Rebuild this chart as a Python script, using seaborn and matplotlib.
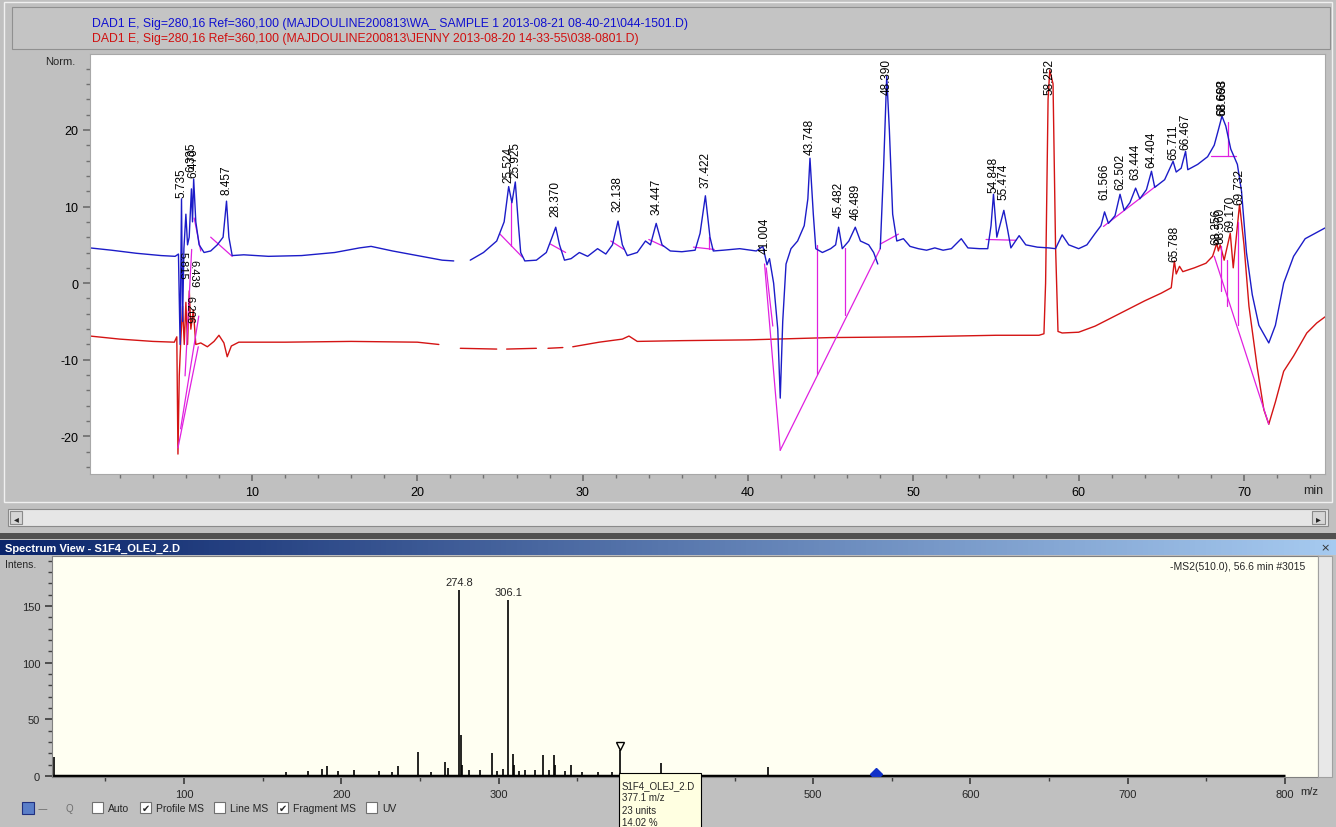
import numpy as np
import pandas as pd
import seaborn as sns
import matplotlib.pyplot as plt
from matplotlib.patches import Rectangle
from matplotlib.colors import LinearSegmentedColormap

W, H = 1336, 828

# ---- chromatogram (DAD1 E, 280 nm) ----
blue_t = [0.2, 1.5, 3.0, 4.5, 5.35, 5.55, 5.65, 5.735, 5.80, 5.88, 6.0, 6.1, 6.2, 6.335, 6.40, 6.47,
          6.6, 6.8, 7.1, 7.5, 7.9, 8.25, 8.457, 8.6, 8.8, 9.5, 11.0, 13.0, 15.0, 16.5, 17.2, 18.5,
          20.0, 21.5, 22.2,
          23.2, 24.0, 24.8, 25.25, 25.524, 25.72, 25.925, 26.1, 26.25, 26.5, 27.2, 27.8, 28.15, 28.37,
          28.6, 28.9, 29.3, 29.8, 30.3, 30.9, 31.4, 31.8, 32.138, 32.4, 32.7, 33.3, 33.8, 34.1, 34.447,
          34.8, 35.3, 36.0, 36.8, 37.1, 37.422, 37.7, 37.9, 38.5, 39.5, 40.5, 40.9, 41.004, 41.15,
          41.3, 41.55, 41.8, 41.95, 42.1, 42.3, 42.6, 43.0, 43.4, 43.62, 43.748, 43.95, 44.1, 44.5,
          45.0, 45.3, 45.482, 45.7, 46.1, 46.489, 46.8, 47.3, 47.6, 47.85,
          48.0, 48.2, 48.39, 48.55, 48.75, 49.0, 49.4, 49.8, 50.3, 50.8, 51.3, 51.8, 52.3, 52.9, 53.3,
          54.0, 54.5, 54.7, 54.848, 55.05, 55.474, 55.7, 55.9, 56.4, 56.8, 57.5, 58.2, 58.6, 59.0,
          59.4, 60.0, 60.5, 61.0, 61.35, 61.566, 61.8, 62.2, 62.502, 62.75, 63.1, 63.444, 63.7, 64.1,
          64.404, 64.6, 65.2, 65.711, 65.9, 66.2, 66.467, 66.6, 67.2, 67.8, 68.2, 68.45, 68.668, 68.9,
          69.2, 69.6, 69.85, 70.15, 70.5, 70.9, 71.5, 71.9, 72.4, 73.0, 73.7, 74.9]
blue_y = [4.6, 4.3, 3.9, 3.6, 3.5, 3.8, -8.0, 11.0, -5.0, 4.5, 9.0, 5.0, 6.0, 12.3, 8.0, 13.6,
          8.0, 5.0, 4.0, 4.2, 5.0, 6.0, 10.7, 6.0, 3.6, 3.7, 3.5, 3.6, 4.0, 4.6, 4.8, 4.2,
          3.6, 3.0, 2.9,
          3.0, 4.0, 5.5, 8.0, 12.6, 10.5, 13.2, 8.0, 4.0, 2.9, 3.0, 4.0, 6.0, 7.3,
          5.0, 3.0, 3.2, 4.0, 3.5, 4.5, 3.8, 5.0, 8.1, 5.0, 3.6, 4.0, 5.5, 5.0, 7.8,
          5.0, 4.2, 4.1, 4.3, 6.5, 11.4, 6.0, 4.2, 4.3, 4.5, 4.2, 4.8, 3.8, 2.4,
          3.2, 0.0, -6.0, -15.0, -5.0, 2.5, 4.5, 5.5, 7.5, 11.0, 16.3, 9.0, 4.5, 4.0,
          4.5, 5.0, 7.3, 4.5, 5.5, 7.3, 5.5, 5.0, 4.0, 2.5,
          4.5, 15.0, 27.0, 20.0, 9.0, 5.5, 5.8, 4.8, 4.5, 4.3, 4.6, 4.3, 4.5, 5.8, 4.6,
          4.5, 4.5, 7.5, 11.6, 6.0, 9.5, 7.0, 4.6, 6.2, 5.0, 4.7, 4.6, 4.5, 6.3,
          5.0, 4.5, 5.0, 6.5, 7.5, 9.3, 7.8, 8.8, 11.6, 9.5, 10.5, 12.4, 11.0, 12.2,
          14.6, 12.5, 13.5, 15.9, 14.5, 15.0, 17.2, 14.8, 15.5, 16.5, 18.0, 20.0, 21.8, 20.5,
          17.5, 15.5, 12.0, 4.0, -1.5, -5.5, -7.8, -5.5, 0.0, 3.5, 5.8, 7.2]
blue_breaks = [22.7, 47.9]

red_t = [0.2, 2.0, 4.0, 5.3, 5.45, 5.52, 5.6, 5.68, 5.8, 5.9, 6.0, 6.1, 6.206, 6.3, 6.45, 6.6,
         6.9, 7.3, 7.7, 8.0, 8.3, 8.5, 8.75, 9.2, 12.0, 16.0, 20.0, 21.3,
         22.6, 24.8, 25.4, 27.2, 27.9, 28.8,
         29.4, 31.0, 32.4, 32.8, 33.3, 36.0, 40.0, 45.0, 50.0, 55.0, 57.6, 57.9, 58.0, 58.15, 58.252,
         58.45, 58.6, 58.75, 59.0, 60.0, 61.0, 62.0, 63.0, 64.0, 65.0, 65.6, 65.788, 65.9, 66.1,
         66.3, 67.0, 67.7, 68.1, 68.356, 68.45, 68.56, 68.8, 69.17, 69.35, 69.732, 70.0, 70.3,
         70.8, 71.2, 71.5, 71.9, 72.4, 73.0, 73.8, 74.4, 74.9]
red_y = [-6.9, -7.3, -7.6, -7.7, -7.0, -22.3, -12.0, -8.0, -3.0, -8.0, -2.5, -8.0, -1.0, -6.0, -3.5, -8.0,
         -7.8, -8.3, -7.6, -6.8, -7.8, -9.6, -8.2, -7.7, -7.7, -7.6, -7.7, -8.0,
         -8.5, -8.6, -8.6, -8.5, -8.5, -8.4,
         -8.3, -7.7, -7.3, -6.9, -7.6, -7.5, -7.4, -7.1, -7.0, -6.8, -6.8, -6.6, 0.0, 24.0, 27.8,
         26.0, 5.0, -6.3, -6.5, -6.4, -5.6, -4.5, -3.4, -2.3, -1.3, -0.6, 2.9, 1.2, 2.2,
         1.5, 2.0, 2.6, 3.5, 5.2, 4.2, 5.0, 3.0, 6.5, 2.0, 10.3, 5.0, -3.0,
         -11.0, -16.5, -18.4, -15.5, -11.5, -9.5, -6.5, -5.2, -4.4]
red_breaks = [21.5, 25.0, 27.5, 29.0]

# integration baselines (start time, start value, end time, end value)
mag_t0 = [5.52, 5.95, 6.78, 6.5, 7.5, 25.0, 25.65, 28.05, 31.7, 34.0, 36.7, 37.65, 41.0, 41.1,
          41.95, 44.17, 45.87, 48.0, 54.4, 61.5, 68.0, 69.05, 68.2, 68.6, 69.0, 69.65]
mag_y0 = [-21.5, -12.1, -4.3, 8.5, 6.0, 6.4, 10.6, 5.1, 5.5, 5.7, 4.7, 6.0, 2.5, 2.0,
          -21.8, 5.0, 4.6, 5.1, 5.7, 7.4, 16.6, 21.0, 3.5, 4.8, 3.0, 8.0]
mag_t1 = [6.75, 6.35, 5.68, 6.9, 8.8, 26.35, 25.65, 28.97, 32.5, 34.9, 37.96, 37.65, 41.95, 41.5,
          48.0, 44.17, 45.87, 49.1, 56.2, 64.7, 69.5, 69.05, 71.5, 68.6, 69.0, 69.65]
mag_y1 = [-8.3, 4.4, -19.0, 4.2, 3.5, 3.4, 4.8, 4.0, 4.4, 4.8, 4.4, 4.5, -21.8, -5.6,
          4.5, -11.8, -4.2, 6.4, 5.6, 12.7, 16.6, 16.6, -18.4, -1.0, -3.0, -5.4]

# retention time labels above peaks (text, bottom of label)
pk_txt = ['5.735', '6.335', '6.470', '8.457', '25.524', '25.925', '28.370', '32.138', '34.447',
          '37.422', '41.004', '43.748', '45.482', '46.489', '48.390', '54.848', '55.474', '58.252',
          '61.566', '62.502', '63.444', '64.404', '65.711', '66.467', '68.668', '68.693',
          '65.788', '68.356', '68.560', '69.170', '69.732']
pk_y = [11.2, 14.6, 13.8, 11.6, 13.2, 13.8, 8.7, 9.4, 9.0,
        12.5, 4.0, 16.8, 8.6, 8.4, 24.7, 11.9, 11.0, 24.7,
        11.0, 12.3, 13.6, 15.1, 16.2, 17.5, 21.9, 22.1,
        2.9, 5.1, 5.3, 6.8, 10.3]
# labels hanging below negative peaks
dn_txt = ['5.815', '6.439', '6.206']
dn_y = [4.2, 3.2, -1.5]

# ---- MS2 spectrum ----
ms_mz = [17, 165, 179, 188, 191, 198, 208, 224, 232, 236, 249, 257, 266, 268, 274.8, 276, 277,
         281, 288, 296, 299, 303, 306.1, 309, 310, 313, 317, 323, 328, 332, 335, 336, 342, 346,
         353, 363, 372, 377.1, 403, 471]
ms_int = [17, 3, 4, 6, 9, 4, 5, 4, 3, 9, 21, 3, 12, 7, 164, 36, 10,
          5, 5, 20, 4, 6, 155, 19, 10, 4, 5, 5, 18, 5, 18, 10, 4, 10,
          3, 3, 3, 23, 11, 8]
ms_lab = ['274.8', '306.1']
ms_ticks = [100, 200, 300, 400, 500, 600, 700, 800]
ms_ticklabels = ['100', '200', '300', '', '500', '600', '700', '800']  # 400 sits under the tooltip

BLUE, RED, MAG = '#1c1cc8', '#d41414', '#e020e0'

sns.set_theme(style='white')
plt.rcParams['font.family'] = ['Liberation Sans', 'DejaVu Sans']
plt.rcParams['axes.unicode_minus'] = False

fig = plt.figure(figsize=(W / 100, H / 100), dpi=100, facecolor='#c0c0c0')


def px_rect(x, y, w, h, **kw):
    fig.add_artist(Rectangle((x / W, 1 - (y + h) / H), w / W, h / H,
                             transform=fig.transFigure, **kw))


def px_text(x, y, s, **kw):
    fig.text(x / W, 1 - y / H, s, **kw)


# window chrome
px_rect(4, 3, 1328, 500, fc='none', ec='#f0f0f0', lw=1, zorder=-1)
px_rect(12, 8, 1318, 42, fc='#c4c4c4', ec='#909090', lw=0.8, zorder=-1)
px_text(92, 24, 'DAD1 E, Sig=280,16 Ref=360,100 (MAJDOULINE200813\\WA_ SAMPLE 1 2013-08-21 08-40-21\\044-1501.D)',
        color='#1010d0', fontsize=8.8, va='center')
px_text(92, 39, 'DAD1 E, Sig=280,16 Ref=360,100 (MAJDOULINE200813\\JENNY 2013-08-20 14-33-55\\038-0801.D)',
        color='#d01010', fontsize=8.8, va='center')

# scrollbar
px_rect(8, 510, 1320, 17, fc='#e6e6e6', ec='#8a8a8a', lw=0.8)
px_rect(10, 512, 12, 13, fc='#d6d6d6', ec='#8a8a8a', lw=0.8)
px_rect(1312, 512, 13, 13, fc='#d6d6d6', ec='#8a8a8a', lw=0.8)
px_text(16, 519, '\u25c2', fontsize=7, ha='center', va='center', family='DejaVu Sans')
px_text(1318, 519, '\u25b8', fontsize=7, ha='center', va='center', family='DejaVu Sans')
px_rect(0, 534, W, 6, fc='#505050', ec='none')

# spectrum window title bar
tb = fig.add_axes([0, 1 - 556 / H, 1, 15 / H])
tb.imshow(np.linspace(0, 1, 256)[None, :], aspect='auto', extent=[0, 1, 0, 1],
          cmap=LinearSegmentedColormap.from_list('tb', ['#0a246a', '#a6caf0']))
tb.axis('off')
tb.text(0.004, 0.5, 'Spectrum View - S1F4_OLEJ_2.D', color='white', fontsize=8,
        fontweight='bold', va='center', transform=tb.transAxes)
tb.text(0.992, 0.5, '\u00d7', color='#303030', fontsize=8, va='center', ha='center',
        transform=tb.transAxes, family='DejaVu Sans')

# ---- top: chromatogram ----
ax = fig.add_axes([90 / W, 1 - 475 / H, 1235 / W, 420 / H], facecolor='white')

blue_df = pd.DataFrame({'t': blue_t, 'y': blue_y})
blue_df['seg'] = np.searchsorted(blue_breaks, blue_df['t'])
red_df = pd.DataFrame({'t': red_t, 'y': red_y})
red_df['seg'] = np.searchsorted(red_breaks, red_df['t'])
mag_df = pd.DataFrame({'t': mag_t0 + mag_t1, 'y': mag_y0 + mag_y1,
                       'seg': list(range(len(mag_t0))) * 2})

sns.lineplot(data=red_df, x='t', y='y', units='seg', estimator=None, sort=False,
             color=RED, lw=1.0, ax=ax)
sns.lineplot(data=mag_df, x='t', y='y', units='seg', estimator=None, sort=False,
             color=MAG, lw=0.9, ax=ax)
sns.lineplot(data=blue_df, x='t', y='y', units='seg', estimator=None, sort=False,
             color=BLUE, lw=1.0, ax=ax)

for s, yb in zip(pk_txt, pk_y):
    ax.text(float(s), yb, s, rotation=90, ha='center', va='bottom', fontsize=8.5, color='black')
for s, yb in zip(dn_txt, dn_y):
    ax.text(float(s), yb, s, rotation=270, ha='center', va='top', fontsize=8, color='black')

ax.set_xlim(0.2, 74.9)
ax.set_ylim(-24.9, 29.9)
ax.set_xticks([10, 20, 30, 40, 50, 60, 70])
ax.set_xticks(np.arange(2, 75, 2), minor=True)
ax.set_yticks([-20, -10, 0, 10, 20])
ax.set_yticks(np.arange(-24, 30, 2), minor=True)
ax.tick_params(which='both', direction='out', color='#707070', labelsize=9, labelcolor='black',
               bottom=True, left=True)
ax.tick_params(which='major', length=5)
ax.tick_params(which='minor', length=3)
ax.set_xlabel('')
ax.set_ylabel('')
for sp in ax.spines.values():
    sp.set_color('#a8a8a8')
    sp.set_linewidth(0.8)
px_text(60, 62, 'Norm.', fontsize=8, ha='center', va='center')
px_text(1313, 491, 'min', fontsize=9, ha='center', va='center')

# ---- bottom: spectrum ----
ax2 = fig.add_axes([52 / W, 1 - 778 / H, 1266 / W, 221 / H], facecolor='#fffff2')
ax2.vlines(ms_mz, 0, ms_int, color='black', lw=1.2)
ax2.hlines(0, 16, 800, color='black', lw=2.5)
for s in ms_lab:
    ax2.text(float(s), ms_int[ms_mz.index(float(s))] + 3, s, ha='center', va='bottom', fontsize=8)
ax2.plot([377.1], [26], marker='v', ms=6, mfc='none', mec='black', ls='none')
ax2.plot([540], [2], marker='D', ms=6, color='#1030c8', ls='none')
ax2.set_xlim(16, 821)
ax2.set_ylim(-1, 194)
ax2.set_xticks(ms_ticks, ms_ticklabels)
ax2.set_xticks(np.arange(50, 801, 50), minor=True)
ax2.set_yticks([0, 50, 100, 150])
ax2.set_yticks(np.arange(0, 191, 10), minor=True)
ax2.tick_params(which='both', direction='out', color='#404040', labelsize=8, bottom=True, left=True)
ax2.tick_params(which='major', length=5)
ax2.tick_params(which='minor', length=3)
for sp in ax2.spines.values():
    sp.set_color('#808080')
    sp.set_linewidth(0.8)
ax2.text(0.99, 0.955, '-MS2(510.0), 56.6 min #3015', transform=ax2.transAxes, ha='right',
         va='center', fontsize=7.5)
px_text(5, 565, 'Intens.', fontsize=7.5, va='center')
px_text(1300, 792, 'm/z', fontsize=8, va='center', ha='left')

# right scrollbar of spectrum view
px_rect(1318, 557, 14, 221, fc='#e8e8e8', ec='#a0a0a0', lw=0.8)

# toolbar with check boxes
px_rect(22, 803, 12, 12, fc='#5a7ec8', ec='#203080', lw=0.8)
px_text(42, 809, '\u2014', fontsize=7, color='#707070', va='center', ha='center', family='DejaVu Sans')
px_text(69, 809, 'Q', fontsize=7, color='#707070', va='center', ha='center')
for bx, lab, chk in [(92, 'Auto', False), (140, 'Profile MS', True), (214, 'Line MS', False),
                     (277, 'Fragment MS', True), (366, 'UV', False)]:
    px_rect(bx, 803, 11, 11, fc='white', ec='#707070', lw=0.8)
    if chk:
        px_text(bx + 5.5, 809, '\u2714', fontsize=7, ha='center', va='center', family='DejaVu Sans')
    px_text(bx + 16, 809, lab, fontsize=7.5, va='center')

# tooltip
px_rect(619, 774, 82, 56, fc='#ffffe1', ec='black', lw=0.8, zorder=5)
for i, s in enumerate(['S1F4_OLEJ_2.D', '377.1 m/z', '23 units', '14.02 %']):
    px_text(622, 786 + 12.3 * i, s, fontsize=7, va='center', zorder=6)

fig.savefig('out.png', dpi=100, facecolor=fig.get_facecolor())
